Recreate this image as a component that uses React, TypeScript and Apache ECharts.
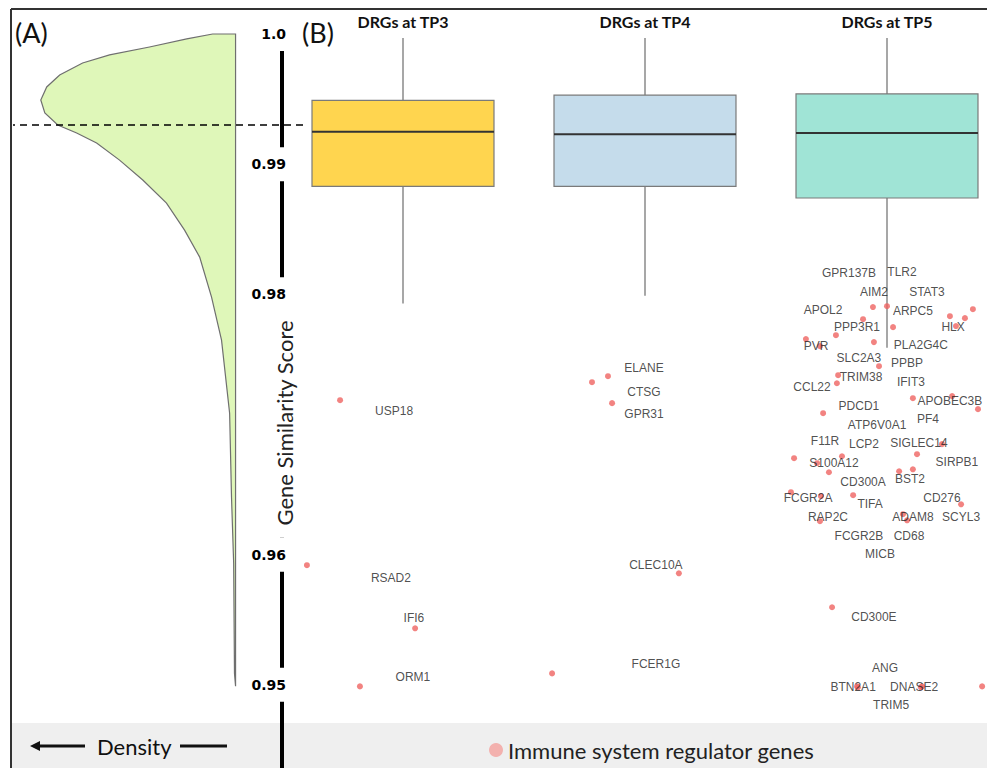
import React, { useEffect, useRef } from 'react';
import * as echarts from 'echarts';

// ---------- data ----------
const groups = ['DRGs at TP3', 'DRGs at TP4', 'DRGs at TP5'];
// box statistics per group: [lower whisker, Q1, median, Q3, upper whisker]
const boxTP3 = [0.9793, 0.9883, 0.9925, 0.9949, 0.9997];
const boxTP4 = [0.9799, 0.9883, 0.9923, 0.9953, 0.9997];
const boxTP5 = [0.9759, 0.9874, 0.9924, 0.9954, 0.9997];
const boxColors = ['#FFD54F', '#C5DCEB', '#A0E4D6'];

// (A) density of the gene similarity score
const densityScore = [1.0, 0.99962, 0.999, 0.99839, 0.99777, 0.99685, 0.99593, 0.99493, 0.99393, 0.99301, 0.99239, 0.99162, 0.99031, 0.98878, 0.98701, 0.98493, 0.98286, 0.97978, 0.97648, 0.97087, 0.96441, 0.95934, 0.95088, 0.9499];
const densityValue = [8.5, 18.1, 31.9, 46.7, 56.7, 65.2, 70.0, 72.2, 70.7, 65.9, 58.9, 51.5, 43.0, 34.4, 25.6, 18.9, 13.3, 8.9, 5.2, 2.2, 1.5, 0.7, 0.4, 0];
const thresholdScore = 0.993;

// (B) immune system regulator genes
const tp3Genes = ['USP18', 'RSAD2', 'IFI6', 'ORM1'];
const tp3Jitter = [-0.26, -0.397, 0.05, -0.178];
const tp3Score = [0.97187, 0.95919, 0.95434, 0.94988];
const tp3LabelJitter = [-0.037, -0.05, 0.045, 0.041];
const tp3LabelScore = [0.97102, 0.95819, 0.95511, 0.95058];

const tp4Genes = ['ELANE', 'CTSG', 'GPR31', 'CLEC10A', 'FCER1G'];
const tp4Jitter = [-0.153, -0.219, -0.136, 0.14, -0.384];
const tp4Score = [0.97371, 0.97325, 0.97164, 0.95857, 0.95088];
const tp4LabelJitter = [-0.004, -0.004, -0.004, 0.045, 0.045];
const tp4LabelScore = [0.97433, 0.97248, 0.97079, 0.95919, 0.95158];

const tp5Genes = ['GPR137B', 'TLR2', 'AIM2', 'STAT3', 'APOL2', 'ARPC5', 'PPP3R1', 'HLX', 'PVR', 'PLA2G4C', 'SLC2A3', 'PPBP', 'TRIM38', 'CCL22', 'IFIT3', 'APOBEC3B', 'PDCD1', 'PF4', 'ATP6V0A1', 'F11R', 'LCP2', 'SIGLEC14', 'SIRPB1', 'S100A12', 'CD300A', 'BST2', 'FCGR2A', 'CD276', 'TIFA', 'RAP2C', 'ADAM8', 'SCYL3', 'FCGR2B', 'CD68', 'MICB', 'CD300E', 'ANG', 'BTN2A1', 'DNASE2', 'TRIM5'];
const tp5Jitter = [-0.099, 0.0, -0.058, 0.355, -0.211, 0.025, -0.054, 0.285, -0.277, 0.322, -0.033, 0.26, -0.202, -0.207, 0.107, 0.269, -0.264, 0.376, -0.335, -0.384, -0.186, 0.227, 0.124, -0.289, -0.24, 0.05, -0.397, 0.306, -0.14, -0.273, 0.066, 0.107, -0.277, 0.083, -0.12, -0.227, 0.14, -0.124, 0.145, 0.393];
const tp5Score = [0.97809, 0.97909, 0.97902, 0.97886, 0.97686, 0.97748, 0.97633, 0.97756, 0.97602, 0.97817, 0.97448, 0.97832, 0.97379, 0.97317, 0.97202, 0.97218, 0.97087, 0.97118, 0.97656, 0.96741, 0.96756, 0.96849, 0.96772, 0.96703, 0.96633, 0.96641, 0.9648, 0.96387, 0.96457, 0.96449, 0.96311, 0.96656, 0.96257, 0.96264, 0.94981, 0.95596, 0.94981, 0.94988, 0.94988, 0.94988];
const tp5LabelJitter = [-0.157, 0.062, -0.054, 0.165, -0.264, 0.107, -0.124, 0.273, -0.293, 0.14, -0.116, 0.083, -0.107, -0.31, 0.099, 0.26, -0.116, 0.169, -0.041, -0.256, -0.095, 0.132, 0.289, -0.219, -0.099, 0.095, -0.326, 0.227, -0.07, -0.244, 0.107, 0.306, -0.116, 0.091, -0.029, -0.054, -0.008, -0.14, 0.112, 0.017];
const tp5LabelScore = [0.98163, 0.98171, 0.98017, 0.98017, 0.97879, 0.97871, 0.97748, 0.97748, 0.97602, 0.9761, 0.9751, 0.97471, 0.97364, 0.97287, 0.97325, 0.97179, 0.97141, 0.97041, 0.96995, 0.96872, 0.96849, 0.96856, 0.9671, 0.96703, 0.96557, 0.9658, 0.96434, 0.96434, 0.96387, 0.96287, 0.96287, 0.96287, 0.96141, 0.96141, 0.96003, 0.95519, 0.95127, 0.94981, 0.94981, 0.94842];

const legendName = 'Immune system regulator genes';
const yAxisTitle = 'Gene Similarity Score';

// ---------- helpers ----------
const geneGroups = [
  { genes: tp3Genes, jitter: tp3Jitter, score: tp3Score, lj: tp3LabelJitter, ls: tp3LabelScore },
  { genes: tp4Genes, jitter: tp4Jitter, score: tp4Score, lj: tp4LabelJitter, ls: tp4LabelScore },
  { genes: tp5Genes, jitter: tp5Jitter, score: tp5Score, lj: tp5LabelJitter, ls: tp5LabelScore },
];

function buildOption() {
  const boxes = [boxTP3, boxTP4, boxTP5];
  const pointData: any[] = [];
  const labelData: any[] = [];
  geneGroups.forEach((g, gi) => {
    g.genes.forEach((name, k) => {
      pointData.push([gi + g.jitter[k], g.score[k], name]);
      labelData.push([gi + g.lj[k], g.ls[k], name]);
    });
  });

  const fmtY = (v: number) => {
    if (Math.abs(v - 0.97) < 1e-6 || v < 0.945) return '';
    if (Math.abs(v - 1) < 1e-6) return '1.0';
    return v.toFixed(2);
  };

  const textFont = 'Lato';

  return {
    animation: false,
    backgroundColor: '#ffffff',
    grid: [
      { left: 282, top: 34, width: 726, height: 781, outerBoundsMode: 'none', containLabel: false },
      { left: 13, top: 34, width: 290, height: 781, outerBoundsMode: 'none', containLabel: false },
    ],
    xAxis: [
      {
        type: 'category', gridIndex: 0, position: 'top', data: groups,
        axisLine: { show: false }, axisTick: { show: false }, splitLine: { show: false },
        axisLabel: { fontFamily: textFont, fontWeight: 'bold', fontSize: 16, color: '#111', margin: 5 },
      },
      { type: 'value', gridIndex: 0, min: -0.5, max: 2.5, show: false },
      { type: 'value', gridIndex: 1, min: -25, max: 82.5, inverse: true, show: false },
    ],
    yAxis: [
      {
        type: 'value', gridIndex: 0, min: 0.94, max: 1.0, interval: 0.01, position: 'left',
        axisLine: { show: true, onZero: false, lineStyle: { color: '#000', width: 4 } },
        axisTick: { show: false }, splitLine: { show: false },
        axisLabel: {
          formatter: fmtY, fontFamily: 'DejaVu Sans', fontWeight: 'bold', fontSize: 14, color: '#000',
          align: 'right', margin: -7, backgroundColor: '#fff', padding: [10, 3, 10, 2],
        },
      },
      { type: 'value', gridIndex: 1, min: 0.94, max: 1.0, show: false },
    ],
    legend: {
      data: [{ name: legendName, icon: 'circle', itemStyle: { color: '#f4a19e' } }],
      left: 484, top: 734, itemWidth: 14, itemHeight: 14, itemGap: 9, selectedMode: false,
      textStyle: { fontFamily: textFont, fontSize: 22, color: '#222' },
    },
    graphic: [
      { type: 'rect', z: -10, shape: { x: 11, y: 723, width: 976, height: 45 }, style: { fill: '#efefef' } },
      { type: 'line', z: 10, shape: { x1: 11, y1: 9, x2: 987, y2: 9 }, style: { stroke: '#333', lineWidth: 2 } },
      { type: 'line', z: 10, shape: { x1: 11, y1: 9, x2: 11, y2: 768 }, style: { stroke: '#333', lineWidth: 2 } },
      { type: 'text', z: 10, x: 15, y: 32, style: { text: '(A)', fontFamily: textFont, fontSize: 27, fill: '#111', verticalAlign: 'middle' } },
      { type: 'text', z: 10, x: 302, y: 32, style: { text: '(B)', fontFamily: textFont, fontSize: 27, fill: '#111', verticalAlign: 'middle' } },
      {
        type: 'text', z: 100, x: 284, y: 423, rotation: Math.PI / 2,
        style: {
          text: yAxisTitle, fontFamily: textFont, fontSize: 22, fill: '#222',
          align: 'center', verticalAlign: 'middle', backgroundColor: '#fff', padding: [4, 12],
        },
      },
      { type: 'line', z: 10, shape: { x1: 38, y1: 746, x2: 85, y2: 746 }, style: { stroke: '#111', lineWidth: 3 } },
      { type: 'polygon', z: 10, shape: { points: [[30, 746], [40, 741], [40, 751]] }, style: { fill: '#111' } },
      { type: 'text', z: 10, x: 97, y: 746, style: { text: 'Density', fontFamily: textFont, fontSize: 22, fill: '#111', verticalAlign: 'middle' } },
      { type: 'line', z: 10, shape: { x1: 180, y1: 746, x2: 227, y2: 746 }, style: { stroke: '#111', lineWidth: 3 } },
    ],
    series: [
      {
        type: 'custom', name: 'density', xAxisIndex: 2, yAxisIndex: 1, silent: true,
        data: [[0, densityScore[0]]],
        renderItem: (_p: any, api: any) => {
          const pts: number[][] = [api.coord([0, densityScore[0]])];
          densityScore.forEach((s, i) => pts.push(api.coord([densityValue[i], s])));
          pts.push(api.coord([0, densityScore[densityScore.length - 1]]));
          return { type: 'polygon', shape: { points: pts }, style: { fill: '#DFF7B9', stroke: '#6f6f6f', lineWidth: 1.2 } };
        },
        markLine: {
          silent: true, symbol: 'none', precision: 5, label: { show: false },
          lineStyle: { color: '#000', width: 1.5, type: [7, 5] },
          data: [{ yAxis: thresholdScore }],
        },
      },
      {
        type: 'custom', name: 'box', xAxisIndex: 1, yAxisIndex: 0, silent: true,
        encode: { x: 0, y: [1, 2, 3, 4, 5] },
        data: boxes.map((b, i) => [i, ...b]),
        renderItem: (_p: any, api: any) => {
          const i = api.value(0);
          const low = api.value(1), q1 = api.value(2), med = api.value(3), q3 = api.value(4), high = api.value(5);
          const hw = 0.376;
          const lt = api.coord([i - hw, q3]);
          const rb = api.coord([i + hw, q1]);
          const top = api.coord([i, high]);
          const cq3 = api.coord([i, q3]);
          const cq1 = api.coord([i, q1]);
          const bot = api.coord([i, low]);
          const ml = api.coord([i - hw, med]);
          const mr = api.coord([i + hw, med]);
          return {
            type: 'group',
            children: [
              { type: 'line', shape: { x1: top[0], y1: top[1], x2: cq3[0], y2: cq3[1] }, style: { stroke: '#8a8a8a', lineWidth: 1.5 } },
              { type: 'line', shape: { x1: cq1[0], y1: cq1[1], x2: bot[0], y2: bot[1] }, style: { stroke: '#8a8a8a', lineWidth: 1.5 } },
              { type: 'rect', shape: { x: lt[0], y: lt[1], width: rb[0] - lt[0], height: rb[1] - lt[1] }, style: { fill: boxColors[i], stroke: '#7a7a7a', lineWidth: 1.2 } },
              { type: 'line', shape: { x1: ml[0], y1: ml[1], x2: mr[0], y2: mr[1] }, style: { stroke: '#333', lineWidth: 2 } },
            ],
          };
        },
      },
      {
        type: 'scatter', name: 'gene labels', xAxisIndex: 1, yAxisIndex: 0, silent: true,
        symbolSize: 1, itemStyle: { color: 'rgba(0,0,0,0)' },
        data: labelData,
        label: {
          show: true, position: 'inside', formatter: (p: any) => p.data[2],
          fontFamily: 'Liberation Sans', fontSize: 12, color: '#222',
        },
      },
      {
        type: 'scatter', name: legendName, xAxisIndex: 1, yAxisIndex: 0, silent: true,
        symbolSize: 6, itemStyle: { color: '#ef6461' },
        data: pointData,
      },
    ],
  };
}

export default function App() {
  const ref = useRef<HTMLDivElement>(null);
  useEffect(() => {
    if (!ref.current) return;
    const chart = echarts.init(ref.current, null, { renderer: 'svg' });
    chart.setOption(buildOption() as any);
    return () => chart.dispose();
  }, []);
  return (
    <div
      ref={ref}
      style={{ position: 'fixed', left: 0, top: 0, width: 987, height: 768, background: '#fff' }}
    />
  );
}
